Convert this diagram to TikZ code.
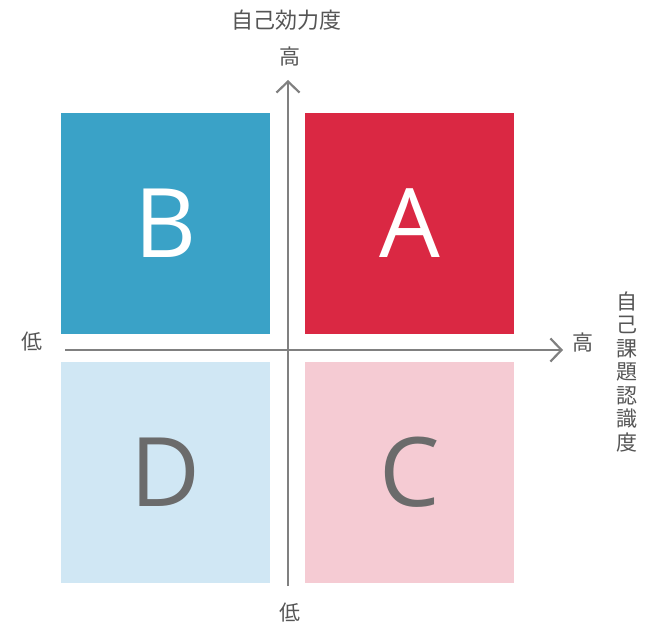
\documentclass[tikz,border=0pt]{standalone}
\usepackage{fontspec}
\setmainfont{Liberation Sans}
\newfontfamily\cjk{Noto Sans CJK JP}
\newfontfamily\letterfont{Open Sans}
\usetikzlibrary{arrows.meta}
\definecolor{cA}{HTML}{DA2843}
\definecolor{cB}{HTML}{3AA2C7}
\definecolor{cC}{HTML}{F5CBD3}
\definecolor{cD}{HTML}{D0E7F4}
\definecolor{axisgray}{HTML}{808080}
\definecolor{txtgray}{HTML}{555555}
\definecolor{lettergray}{HTML}{6B6B6B}
\begin{document}
\begin{tikzpicture}[x=1pt,y=-1pt,
  quad/.style={draw=none,minimum width=209pt,minimum height=221pt,inner sep=0pt,
     font=\letterfont\fontsize{96}{96}\selectfont},
  axislabel/.style={text=txtgray,font=\cjk\fontsize{21}{23}\selectfont,inner sep=0pt},
  axisline/.style={draw=axisgray,line width=2.6pt,-{Straight Barb[length=11pt,width=23pt,line width=2.2pt]}}]
\useasboundingbox (0,0) rectangle (650,628);
\node[quad,fill=cB,text=white] (B) at (165.5,223.5) {B};
\node[quad,fill=cA,text=white] (A) at (409.5,223.5) {A};
\node[quad,fill=cD,text=lettergray] (D) at (165.5,472.5) {D};
\node[quad,fill=cC,text=lettergray] (C) at (409.5,472.5) {C};
\coordinate (vb) at (288,586);
\coordinate (vt) at (288,80);
\coordinate (hl) at (65,350);
\coordinate (hr) at (563,350);
\draw[axisline] (vb) -- (vt);
\draw[axisline] (hl) -- (hr);
\node[axislabel,font=\cjk\fontsize{22}{23}\selectfont] (ytitle) at (286,20) {自己効力度};
\node[axislabel] (yhigh) at (290,57) {高};
\node[axislabel] (ylow) at (290,613) {低};
\node[axislabel] (xlow) at (32,342) {低};
\node[axislabel] (xhigh) at (583,343) {高};
\node[axislabel,align=center,font=\cjk\fontsize{21}{23.5}\selectfont] (xtitle) at (627,372) {自\\己\\課\\題\\認\\識\\度};
\end{tikzpicture}
\end{document}
